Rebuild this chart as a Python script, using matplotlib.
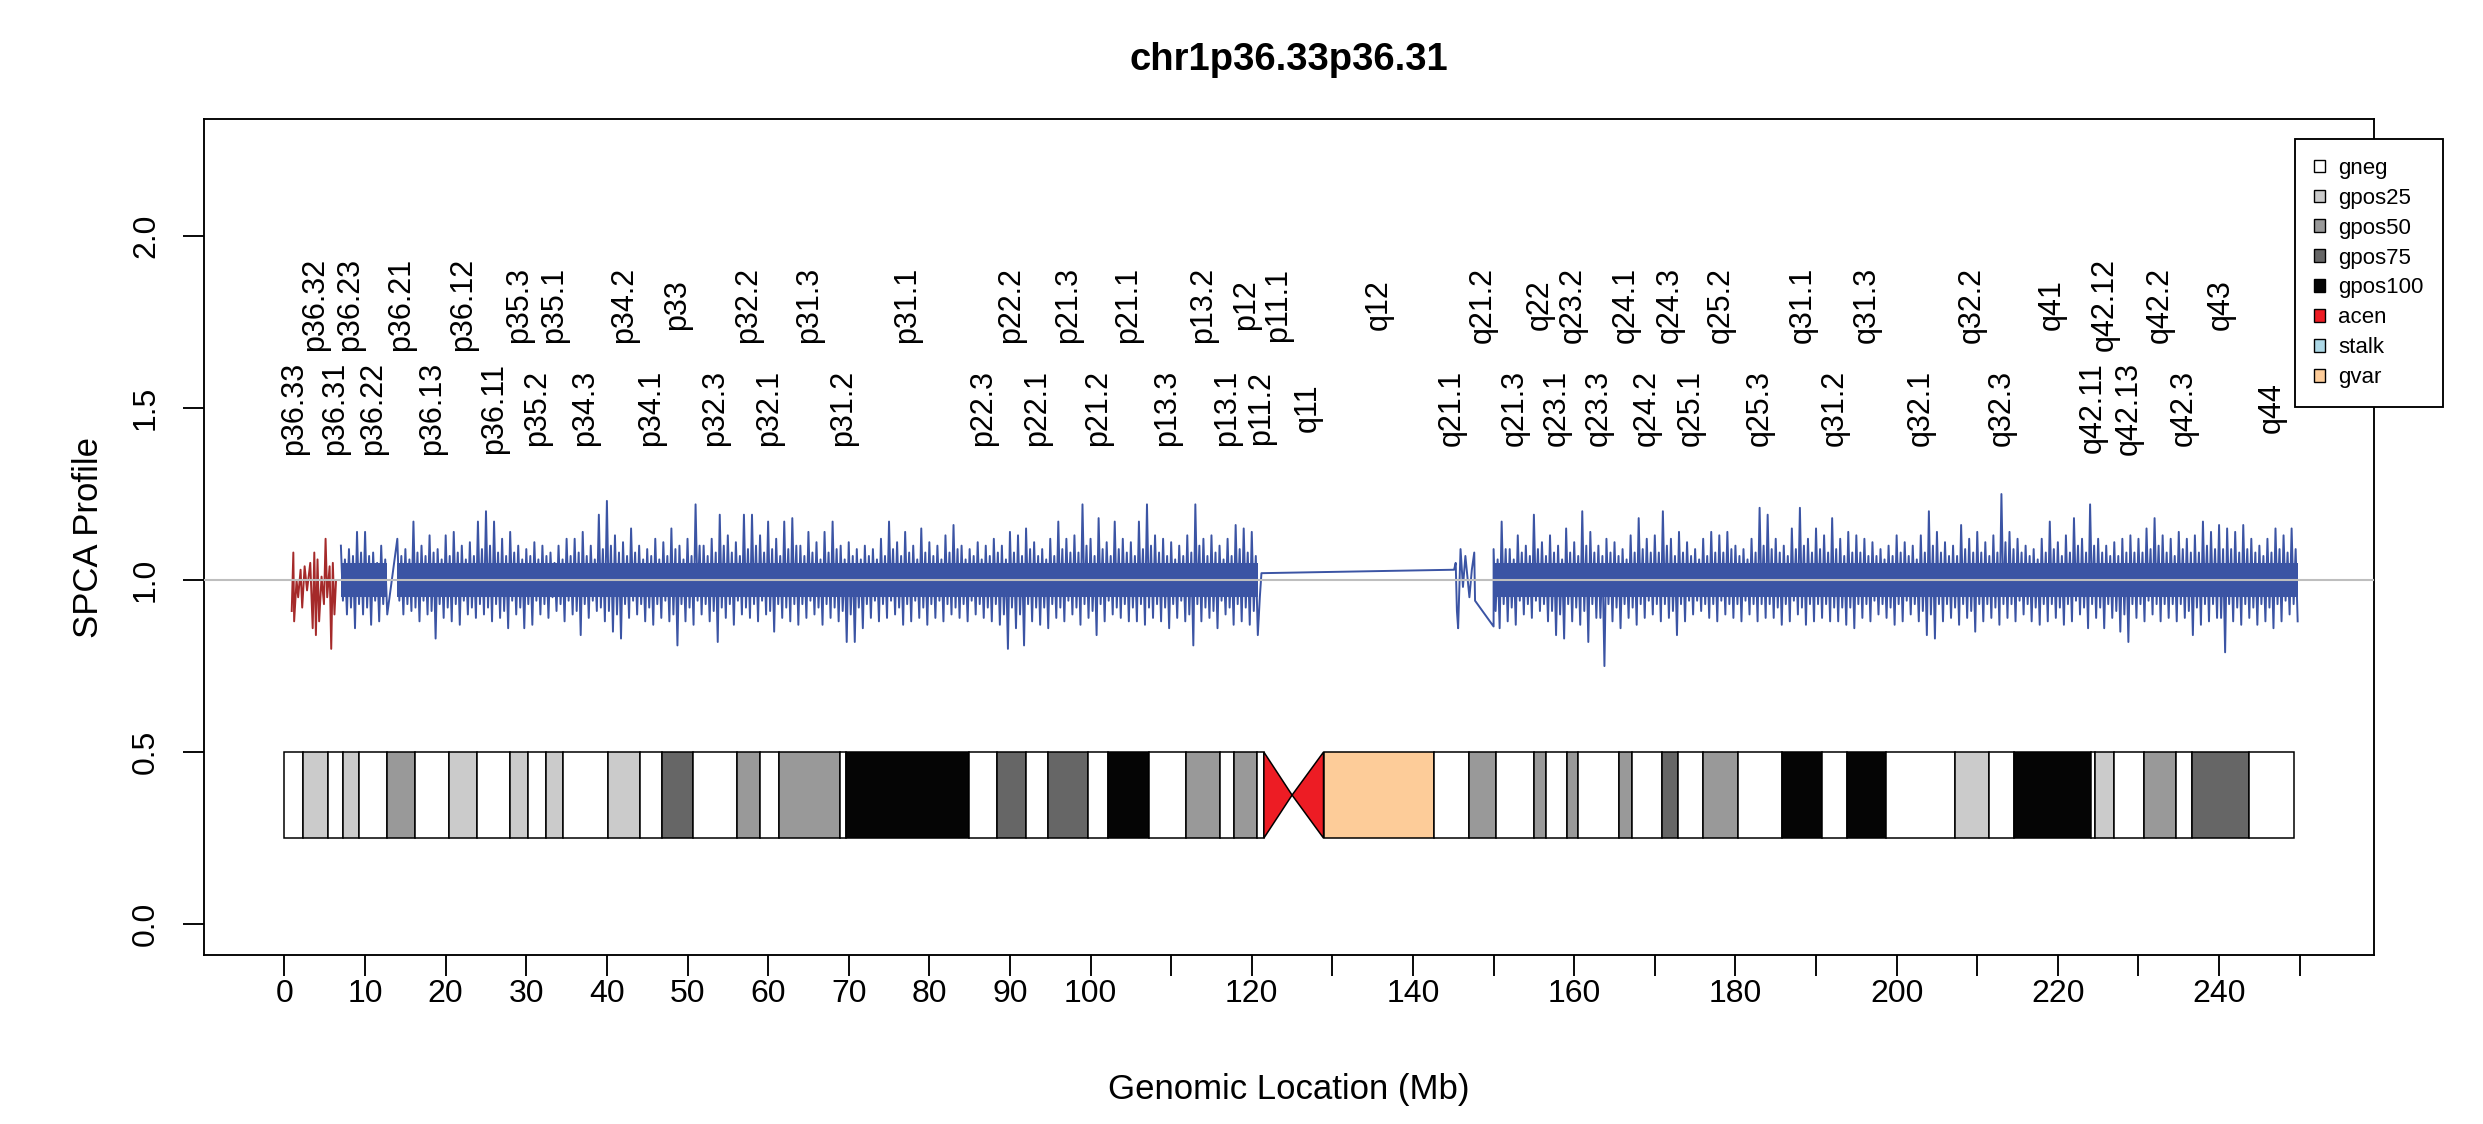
import matplotlib
matplotlib.use('Agg')
import matplotlib.pyplot as plt
from matplotlib.patches import Rectangle, Polygon, Patch
import numpy as np

plt.rcParams['font.family'] = ['Liberation Sans', 'DejaVu Sans']

# 1号染色体条带 (hg19, Mb)
band_names = ['p36.33', 'p36.32', 'p36.31', 'p36.23', 'p36.22', 'p36.21', 'p36.13', 'p36.12',
              'p36.11', 'p35.3', 'p35.2', 'p35.1', 'p34.3', 'p34.2', 'p34.1', 'p33', 'p32.3',
              'p32.2', 'p32.1', 'p31.3', 'p31.2', 'p31.1', 'p22.3', 'p22.2', 'p22.1', 'p21.3',
              'p21.2', 'p21.1', 'p13.3', 'p13.2', 'p13.1', 'p12', 'p11.2', 'p11.1', 'q11', 'q12',
              'q21.1', 'q21.2', 'q21.3', 'q22', 'q23.1', 'q23.2', 'q23.3', 'q24.1', 'q24.2',
              'q24.3', 'q25.1', 'q25.2', 'q25.3', 'q31.1', 'q31.2', 'q31.3', 'q32.1', 'q32.2',
              'q32.3', 'q41', 'q42.11', 'q42.12', 'q42.13', 'q42.2', 'q42.3', 'q43', 'q44']
band_starts = [0.0, 2.3, 5.4, 7.2, 9.2, 12.7, 16.2, 20.4, 23.9, 28.0, 30.2, 32.4, 34.6, 40.1,
               44.1, 46.8, 50.7, 56.1, 59.0, 61.3, 68.9, 69.7, 84.9, 88.4, 92.0, 94.7, 99.7,
               102.2, 107.2, 111.8, 116.1, 117.8, 120.7, 121.5, 125.0, 128.9, 142.6, 147.0,
               150.3, 155.0, 156.5, 159.1, 160.5, 165.5, 167.2, 170.9, 172.9, 176.0, 180.3,
               185.8, 190.8, 193.8, 198.7, 207.2, 211.5, 214.5, 224.1, 224.6, 227.0, 230.7,
               234.7, 236.6, 243.7]
chrom_len = 249.25
band_ends = band_starts[1:] + [chrom_len]
band_stains = ['gneg', 'gpos25', 'gneg', 'gpos25', 'gneg', 'gpos50', 'gneg', 'gpos25', 'gneg',
               'gpos25', 'gneg', 'gpos25', 'gneg', 'gpos25', 'gneg', 'gpos75', 'gneg', 'gpos50',
               'gneg', 'gpos50', 'gneg', 'gpos100', 'gneg', 'gpos75', 'gneg', 'gpos75', 'gneg',
               'gpos100', 'gneg', 'gpos50', 'gneg', 'gpos50', 'gneg', 'acen', 'acen', 'gvar',
               'gneg', 'gpos50', 'gneg', 'gpos50', 'gneg', 'gpos50', 'gneg', 'gpos50', 'gneg',
               'gpos75', 'gneg', 'gpos50', 'gneg', 'gpos100', 'gneg', 'gpos100', 'gneg', 'gpos25',
               'gneg', 'gpos100', 'gneg', 'gpos25', 'gneg', 'gpos50', 'gneg', 'gpos75', 'gneg']

stain_names = ['gneg', 'gpos25', 'gpos50', 'gpos75', 'gpos100', 'acen', 'stalk', 'gvar']
stain_colors = ['#FFFFFF', '#CBCBCB', '#999999', '#666666', '#050505', '#ED1C24', '#ADD8E6', '#FDCC99']

# 选中区域 (p36.33-p36.31) 的信号
red_pos = [0.9, 1.1, 1.2, 1.5, 1.7, 2.0, 2.2, 2.5, 2.8, 3.2, 3.5, 3.7, 3.9, 4.1, 4.3, 4.6,
           4.9, 5.1, 5.3, 5.6, 5.8, 6.0, 6.2, 6.4]
red_val = [0.91, 1.08, 0.88, 1.00, 0.95, 1.03, 0.92, 1.04, 0.97, 1.05, 0.86, 1.08, 0.84, 1.06,
           0.88, 1.01, 0.93, 1.12, 0.95, 1.04, 0.80, 1.05, 0.90, 1.00]

# p臂信号: 每Mb的外侧峰值 (hi/lo) 与内侧常见幅度 (hi2/lo2)
p_pos = np.r_[7:13, 14:121]
p_hi = [1.10, 1.09, 1.14, 1.14, 1.08, 1.10,
        1.12, 1.09, 1.17, 1.10, 1.13, 1.09, 1.13, 1.14, 1.10, 1.11,
        1.17, 1.20, 1.17, 1.12, 1.14, 1.10, 1.09, 1.11, 1.10, 1.08,
        1.10, 1.12, 1.12, 1.14, 1.10, 1.19, 1.23, 1.13, 1.11, 1.15,
        1.10, 1.09, 1.12, 1.11, 1.15, 1.10, 1.12, 1.22, 1.10, 1.12,
        1.19, 1.13, 1.11, 1.19, 1.19, 1.13, 1.17, 1.12, 1.17, 1.18,
        1.10, 1.14, 1.11, 1.14, 1.17, 1.10, 1.11, 1.09, 1.10, 1.09,
        1.12, 1.17, 1.11, 1.14, 1.10, 1.15, 1.11, 1.10, 1.13, 1.16,
        1.10, 1.09, 1.11, 1.10, 1.12, 1.10, 1.14, 1.13, 1.15, 1.11,
        1.09, 1.12, 1.17, 1.12, 1.13, 1.22, 1.12, 1.18, 1.11, 1.17,
        1.12, 1.11, 1.17, 1.22, 1.13, 1.12, 1.11, 1.10, 1.13, 1.22,
        1.12, 1.13, 1.10, 1.12, 1.16, 1.15, 1.14]
p_lo = [0.90, 0.86, 0.90, 0.87, 0.88, 0.90,
        0.90, 0.91, 0.88, 0.90, 0.83, 0.89, 0.88, 0.87, 0.90, 0.89,
        0.90, 0.88, 0.89, 0.86, 0.90, 0.86, 0.87, 0.90, 0.89, 0.91,
        0.88, 0.90, 0.84, 0.89, 0.91, 0.88, 0.85, 0.83, 0.89, 0.90,
        0.88, 0.87, 0.89, 0.88, 0.81, 0.88, 0.87, 0.90, 0.88, 0.82,
        0.89, 0.87, 0.90, 0.89, 0.88, 0.90, 0.85, 0.89, 0.88, 0.87,
        0.89, 0.90, 0.87, 0.89, 0.88, 0.82, 0.82, 0.86, 0.89, 0.88,
        0.89, 0.90, 0.87, 0.88, 0.89, 0.87, 0.89, 0.88, 0.90, 0.89,
        0.88, 0.90, 0.89, 0.88, 0.87, 0.80, 0.86, 0.81, 0.88, 0.87,
        0.86, 0.89, 0.88, 0.90, 0.87, 0.89, 0.84, 0.88, 0.90, 0.89,
        0.88, 0.88, 0.87, 0.89, 0.88, 0.86, 0.89, 0.88, 0.81, 0.88,
        0.89, 0.86, 0.90, 0.87, 0.88, 0.87, 0.84]
p_hi2 = [1.06, 1.07, 1.08, 1.07, 1.05, 1.06,
         1.07, 1.06, 1.08, 1.07, 1.08, 1.06, 1.07, 1.08, 1.06, 1.07,
         1.09, 1.10, 1.08, 1.07, 1.08, 1.06, 1.07, 1.06, 1.07, 1.05,
         1.06, 1.07, 1.08, 1.07, 1.06, 1.09, 1.10, 1.08, 1.07, 1.08,
         1.06, 1.07, 1.06, 1.07, 1.09, 1.06, 1.07, 1.10, 1.07, 1.08,
         1.10, 1.08, 1.07, 1.09, 1.10, 1.08, 1.09, 1.07, 1.09, 1.10,
         1.07, 1.08, 1.06, 1.08, 1.09, 1.06, 1.07, 1.06, 1.07, 1.06,
         1.07, 1.09, 1.07, 1.08, 1.06, 1.08, 1.07, 1.06, 1.08, 1.09,
         1.06, 1.07, 1.06, 1.07, 1.08, 1.06, 1.08, 1.07, 1.09, 1.07,
         1.06, 1.07, 1.09, 1.08, 1.08, 1.10, 1.07, 1.09, 1.07, 1.09,
         1.08, 1.07, 1.09, 1.10, 1.08, 1.07, 1.06, 1.07, 1.08, 1.10,
         1.07, 1.08, 1.06, 1.07, 1.09, 1.08, 1.07]
p_lo2 = [0.94, 0.92, 0.93, 0.92, 0.94, 0.93,
         0.94, 0.93, 0.92, 0.94, 0.91, 0.93, 0.92, 0.93, 0.94, 0.92,
         0.93, 0.92, 0.93, 0.91, 0.94, 0.92, 0.93, 0.94, 0.93, 0.95,
         0.93, 0.94, 0.91, 0.93, 0.94, 0.92, 0.91, 0.90, 0.93, 0.94,
         0.93, 0.92, 0.93, 0.94, 0.90, 0.93, 0.92, 0.94, 0.93, 0.91,
         0.92, 0.93, 0.94, 0.92, 0.93, 0.94, 0.91, 0.93, 0.92, 0.93,
         0.93, 0.94, 0.92, 0.93, 0.92, 0.91, 0.90, 0.92, 0.93, 0.94,
         0.93, 0.94, 0.92, 0.93, 0.94, 0.92, 0.93, 0.94, 0.93, 0.92,
         0.93, 0.94, 0.93, 0.92, 0.93, 0.90, 0.92, 0.90, 0.93, 0.92,
         0.92, 0.93, 0.92, 0.94, 0.92, 0.93, 0.91, 0.93, 0.94, 0.92,
         0.93, 0.92, 0.93, 0.92, 0.93, 0.92, 0.93, 0.94, 0.90, 0.93,
         0.92, 0.91, 0.94, 0.92, 0.93, 0.92, 0.91]

# 着丝粒附近 (无数据区间) 与 q21 起始
mid_pos = [121.0, 121.2, 145.1, 145.3, 145.45, 145.6, 145.9, 146.2, 146.5, 147.0, 147.3,
           147.6, 147.7, 150.0]
mid_val = [0.95, 1.02, 1.03, 1.05, 0.91, 0.86, 1.09, 0.98, 1.07, 0.95, 1.03, 1.08, 0.94, 0.865]

# q臂信号
q_pos = np.arange(150, 250)
q_hi = [1.09, 1.17, 1.09, 1.13, 1.10, 1.19, 1.11, 1.13, 1.10, 1.15,
        1.11, 1.20, 1.14, 1.10, 1.12, 1.11, 1.09, 1.13, 1.18, 1.12,
        1.13, 1.20, 1.12, 1.14, 1.11, 1.09, 1.12, 1.14, 1.13, 1.14,
        1.10, 1.09, 1.12, 1.21, 1.19, 1.12, 1.10, 1.15, 1.21, 1.12,
        1.15, 1.13, 1.18, 1.12, 1.14, 1.13, 1.12, 1.11, 1.09, 1.10,
        1.13, 1.11, 1.10, 1.13, 1.20, 1.14, 1.11, 1.10, 1.16, 1.12,
        1.14, 1.11, 1.13, 1.25, 1.14, 1.12, 1.10, 1.09, 1.12, 1.17,
        1.11, 1.13, 1.18, 1.12, 1.22, 1.12, 1.10, 1.11, 1.12, 1.13,
        1.12, 1.15, 1.18, 1.13, 1.12, 1.14, 1.12, 1.13, 1.17, 1.14,
        1.16, 1.15, 1.14, 1.16, 1.12, 1.10, 1.12, 1.15, 1.13, 1.15]
q_lo = [0.86, 0.88, 0.87, 0.90, 0.89, 0.91, 0.88, 0.84, 0.83, 0.88,
        0.87, 0.82, 0.89, 0.75, 0.88, 0.86, 0.89, 0.87, 0.89, 0.90,
        0.88, 0.89, 0.84, 0.88, 0.90, 0.91, 0.89, 0.88, 0.90, 0.89,
        0.88, 0.90, 0.88, 0.89, 0.89, 0.87, 0.88, 0.90, 0.87, 0.88,
        0.89, 0.88, 0.88, 0.87, 0.86, 0.89, 0.88, 0.90, 0.89, 0.87,
        0.88, 0.90, 0.88, 0.84, 0.83, 0.88, 0.89, 0.87, 0.89, 0.85,
        0.88, 0.89, 0.87, 0.89, 0.88, 0.90, 0.88, 0.87, 0.88, 0.89,
        0.87, 0.88, 0.90, 0.86, 0.89, 0.86, 0.89, 0.85, 0.82, 0.89,
        0.88, 0.90, 0.88, 0.89, 0.88, 0.89, 0.84, 0.87, 0.88, 0.89,
        0.79, 0.88, 0.87, 0.89, 0.87, 0.88, 0.86, 0.88, 0.90, 0.88]
q_hi2 = [1.06, 1.09, 1.06, 1.08, 1.07, 1.09, 1.07, 1.08, 1.06, 1.08,
         1.07, 1.10, 1.08, 1.07, 1.08, 1.07, 1.06, 1.08, 1.09, 1.08,
         1.08, 1.10, 1.07, 1.08, 1.07, 1.06, 1.07, 1.08, 1.08, 1.09,
         1.07, 1.06, 1.08, 1.10, 1.09, 1.08, 1.07, 1.09, 1.10, 1.08,
         1.09, 1.08, 1.09, 1.07, 1.08, 1.08, 1.07, 1.07, 1.06, 1.07,
         1.08, 1.07, 1.06, 1.08, 1.10, 1.08, 1.07, 1.07, 1.09, 1.08,
         1.08, 1.07, 1.08, 1.11, 1.09, 1.08, 1.07, 1.06, 1.08, 1.09,
         1.07, 1.08, 1.10, 1.08, 1.10, 1.08, 1.07, 1.07, 1.08, 1.08,
         1.08, 1.09, 1.10, 1.08, 1.07, 1.09, 1.08, 1.08, 1.10, 1.09,
         1.09, 1.09, 1.08, 1.09, 1.08, 1.07, 1.08, 1.09, 1.08, 1.09]
q_lo2 = [0.91, 0.93, 0.92, 0.94, 0.93, 0.94, 0.93, 0.91, 0.90, 0.93,
         0.92, 0.91, 0.93, 0.89, 0.93, 0.92, 0.93, 0.92, 0.93, 0.94,
         0.93, 0.93, 0.91, 0.93, 0.94, 0.94, 0.93, 0.93, 0.94, 0.93,
         0.93, 0.94, 0.93, 0.93, 0.93, 0.92, 0.93, 0.94, 0.92, 0.93,
         0.93, 0.93, 0.92, 0.92, 0.92, 0.93, 0.93, 0.94, 0.93, 0.92,
         0.93, 0.94, 0.93, 0.91, 0.90, 0.93, 0.93, 0.92, 0.93, 0.91,
         0.93, 0.93, 0.92, 0.93, 0.93, 0.94, 0.93, 0.92, 0.93, 0.93,
         0.92, 0.93, 0.94, 0.92, 0.93, 0.92, 0.93, 0.91, 0.90, 0.93,
         0.93, 0.94, 0.93, 0.93, 0.93, 0.93, 0.91, 0.92, 0.93, 0.93,
         0.89, 0.93, 0.92, 0.93, 0.92, 0.93, 0.92, 0.93, 0.94, 0.93]
core_band = [0.95, 1.05]  # 信号最密集的中心区

BLUE = '#3B54A4'
RED = '#A52A2A'


def zigzag(pos, hi, lo2, hi2, lo):
    # 每Mb四个点: 外高 -> 内低 -> 内高 -> 外低
    pos = np.asarray(pos, dtype=float)
    xs = np.column_stack([pos, pos + 0.25, pos + 0.5, pos + 0.75]).ravel()
    ys = np.column_stack([hi, lo2, hi2, lo]).ravel()
    return xs, ys


fig = plt.figure(figsize=(24.83, 11.24), dpi=100)
ax = fig.add_axes([0.0822, 0.1503, 0.8739, 0.7438])

# 信号
px, py = zigzag(p_pos, p_hi, p_lo2, p_hi2, p_lo)
qx, qy = zigzag(q_pos, q_hi, q_lo2, q_hi2, q_lo)
blue_x = np.concatenate([px, mid_pos, qx])
blue_y = np.concatenate([py, mid_val, qy])

for pos in (p_pos, q_pos):
    pos = np.asarray(pos, dtype=float)
    breaks = np.where(np.diff(pos) > 1.2)[0]
    for run in np.split(pos, breaks + 1):
        ax.fill_between([run[0], run[-1] + 0.75], core_band[0], core_band[1],
                        color=BLUE, lw=0, zorder=2)
ax.plot(blue_x, blue_y, color=BLUE, lw=1.4, zorder=3)
ax.plot(red_pos, red_val, color=RED, lw=1.4, zorder=3)
ax.axhline(1.0, color='#BEBEBE', lw=1.5, zorder=4)

# 染色体模式图
ideo_lo, ideo_hi = 0.25, 0.5
ideo_mid = (ideo_lo + ideo_hi) / 2
for name, s, e, st in zip(band_names, band_starts, band_ends, band_stains):
    col = stain_colors[stain_names.index(st)]
    if st == 'acen':
        if name.startswith('p'):
            verts = [(s, ideo_hi), (s, ideo_lo), (e, ideo_mid)]
        else:
            verts = [(s, ideo_mid), (e, ideo_hi), (e, ideo_lo)]
        ax.add_patch(Polygon(verts, closed=True, facecolor=col, edgecolor='black', lw=1.1, zorder=3))
    else:
        ax.add_patch(Rectangle((s, ideo_lo), e - s, ideo_hi - ideo_lo,
                               facecolor=col, edgecolor='black', lw=1.1, zorder=3))

# 条带标签 (交错两行)
for i, (name, s, e) in enumerate(zip(band_names, band_starts, band_ends)):
    ax.text((s + e) / 2, 1.5 if i % 2 == 0 else 1.8, name, rotation=90,
            ha='center', va='center', fontsize=22)

# 坐标轴
pad_x = chrom_len * 0.04
ax.set_xlim(-pad_x, chrom_len + pad_x)
ax.set_ylim(-0.09, 2.34)
xt = np.arange(0, 251, 10)
ax.set_xticks(xt)
ax.set_xticklabels([str(v) if (v <= 100 or v % 20 == 0) else '' for v in xt])
ax.set_yticks([0, 0.5, 1.0, 1.5, 2.0])
ax.set_yticklabels(['0.0', '0.5', '1.0', '1.5', '2.0'], rotation=90, va='center')
ax.tick_params(axis='both', length=15, width=1.35, labelsize=23, direction='out')
ax.tick_params(axis='x', pad=2)
ax.tick_params(axis='y', pad=16)
for sp in ax.spines.values():
    sp.set_linewidth(1.35)

ax.set_xlabel('Genomic Location (Mb)', fontsize=25)
ax.xaxis.set_label_coords(0.5, -0.1603)
ax.xaxis.label.set_va('center')
ax.set_ylabel('SPCA Profile', fontsize=25)
ax.yaxis.set_label_coords(-0.0531, 0.5)
ax.yaxis.label.set_va('center')

fig.text(0.0822 + 0.8739 / 2, 1 - 60 / 1124, 'chr1p36.33p36.31', ha='center', va='center',
         fontsize=27.5, fontweight='bold')

# 图例
handles = [Patch(facecolor=c, edgecolor='black', lw=1.0, label=n)
           for n, c in zip(stain_names, stain_colors)]
leg = ax.legend(handles=handles, loc='upper left', bbox_to_anchor=(0.9243, 0.8763),
                bbox_transform=fig.transFigure, fontsize=16, frameon=True, fancybox=False,
                edgecolor='black', framealpha=1, borderaxespad=0, borderpad=0.85,
                handlelength=0.5, handleheight=0.5, handletextpad=0.6, labelspacing=0.4)
leg.get_frame().set_linewidth(1.35)
leg.set_zorder(10)

plt.savefig('out.png', dpi=100)
